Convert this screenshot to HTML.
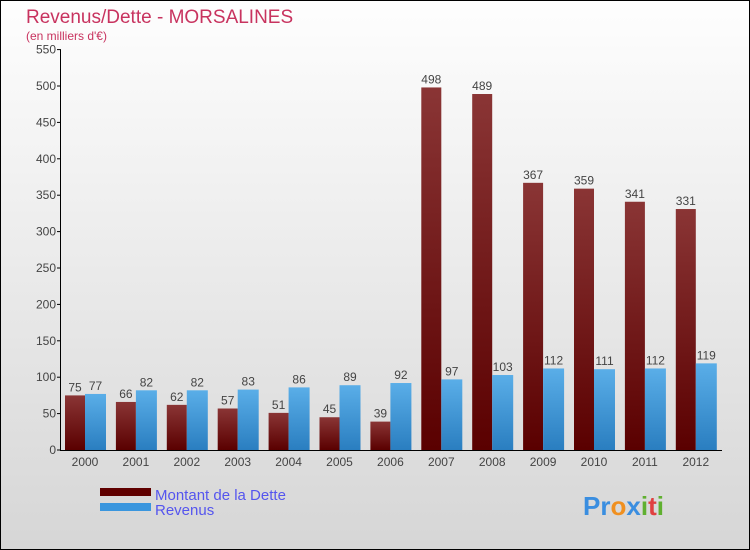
<!DOCTYPE html>
<html><head><meta charset="utf-8"><style>
body{margin:0}
svg{display:block;font-family:"Liberation Sans",sans-serif}
</style></head><body>
<svg width="750" height="550" id="c">
<defs>
<linearGradient id="bg" x1="0" y1="0" x2="0" y2="1"><stop offset="0" stop-color="#fefefe"/><stop offset="1" stop-color="#d6d6d6"/></linearGradient>
<linearGradient id="gd" x1="0" y1="0" x2="0" y2="1"><stop offset="0" stop-color="#8a3535"/><stop offset="1" stop-color="#5a0000"/></linearGradient>
<linearGradient id="gr" x1="0" y1="0" x2="0" y2="1"><stop offset="0" stop-color="#5aaee8"/><stop offset="1" stop-color="#2a7ec0"/></linearGradient>
</defs>
<rect x="0.5" y="0.5" width="749" height="549" fill="url(#bg)" stroke="#000"/>
<text x="26" y="23" font-size="19" fill="#c8335f">Revenus/Dette - MORSALINES</text>
<text x="26" y="40" font-size="12" fill="#c8335f">(en milliers d'€)</text>
<g id="axes"></g>
<g id="bars"></g>
<rect x="100" y="488" width="51" height="8" fill="#600000"/>
<text x="155" y="500" font-size="15" fill="#5555ee">Montant de la Dette</text>
<rect x="100" y="503" width="51" height="8" fill="#3a96de"/>
<text x="155" y="515" font-size="15" fill="#5555ee">Revenus</text>
<text x="583" y="515" font-size="26" font-weight="bold"><tspan fill="#3a8ee0">Pr</tspan><tspan fill="#f09020">o</tspan><tspan fill="#3a8ee0">x</tspan><tspan fill="#60b030">i</tspan><tspan fill="#e04040">t</tspan><tspan fill="#60b030">i</tspan></text>
</svg>
<script>
const years=["2000","2001","2002","2003","2004","2005","2006","2007","2008","2009","2010","2011","2012"];
const dette=[75,66,62,57,51,45,39,498,489,367,359,341,331];
const revenus=[77,82,82,83,86,89,92,97,103,112,111,112,119];
const ticks=[0,50,100,150,200,250,300,350,400,450,500,550];
const NS="http://www.w3.org/2000/svg";
const y=v=>450-v*0.728;
const xc=i=>85+i*50.9;
function mk(t,a,p){const e=document.createElementNS(NS,t);for(const k in a)e.setAttribute(k,a[k]);p.appendChild(e);return e;}
const ax=document.getElementById('axes'),bg=document.getElementById('bars');
let l=mk('line',{x1:60.5,y1:y(550),x2:60.5,y2:450,stroke:'#000'},ax);


l=mk('line',{x1:60,y1:450.5,x2:722,y2:450.5,stroke:'#000'},ax);


ticks.forEach(t=>{
 mk('line',{x1:57,x2:61,y1:y(t),y2:y(t),stroke:'#000'},ax);
 const e=mk('text',{x:56,y:y(t)+4,'font-size':12,'text-anchor':'end',fill:'#444'},ax);
 e.textContent=t;
 
 
});
years.forEach((yr,i)=>{
 const cx=xc(i);
 const t=mk('text',{x:cx,y:466,'font-size':12,'text-anchor':'middle',fill:'#444'},ax);
 t.textContent=yr;
 
 
 const b1=mk('rect',{x:cx-20,y:y(dette[i]),width:20,height:450-y(dette[i]),fill:'url(#gd)'},bg);
 
 
 const b2=mk('rect',{x:cx,y:y(revenus[i]),width:21,height:450-y(revenus[i]),fill:'url(#gr)'},bg);
 
 
 const v1=mk('text',{x:cx-10,y:y(dette[i])-4,'font-size':12,'text-anchor':'middle',fill:'#444'},bg);
 v1.textContent=dette[i];
 
 
 const v2=mk('text',{x:cx+10.5,y:y(revenus[i])-4,'font-size':12,'text-anchor':'middle',fill:'#444'},bg);
 v2.textContent=revenus[i];
 
 
});
</script>
</body></html>
